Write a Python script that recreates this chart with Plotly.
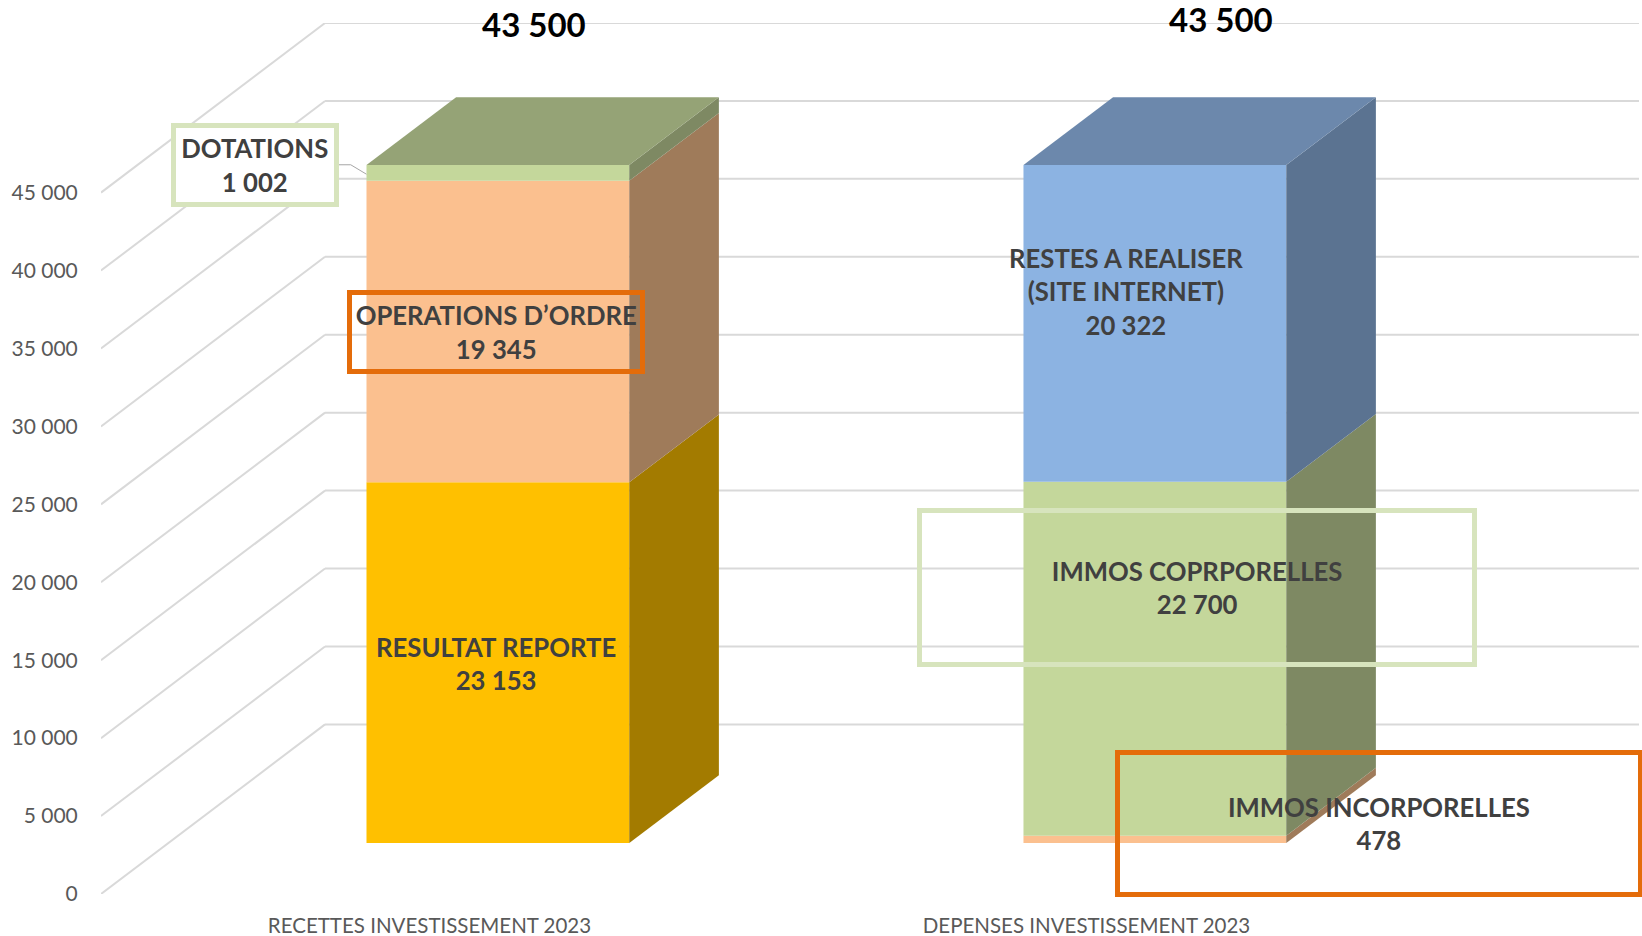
import plotly.graph_objects as go

CATEGORIES = ["RECETTES INVESTISSEMENT 2023", "DEPENSES INVESTISSEMENT 2023"]
TOTALS = [43500, 43500]
RECETTES_NAMES = ["RESULTAT REPORTE", "OPERATIONS D’ORDRE", "DOTATIONS"]
RECETTES_VALUES = [23153, 19345, 1002]
DEPENSES_NAMES = ["IMMOS INCORPORELLES", "IMMOS COPRPORELLES", "RESTES A REALISER (SITE INTERNET)"]
DEPENSES_VALUES = [478, 22700, 20322]
TICKS = [0, 5000, 10000, 15000, 20000, 25000, 30000, 35000, 40000, 45000]
TICK_LABELS = ["0", "5 000", "10 000", "15 000", "20 000", "25 000", "30 000", "35 000", "40 000", "45 000"]

YELLOW = ("#FFC000", "#A37B00", "#A37B00")
PEACH = ("#FBC08F", "#9F7B5A", "#9F7B5A")
GREEN = ("#C4D79B", "#7E8963", "#95A376")
BLUE = ("#8CB3E2", "#5B7391", "#6C88AC")
RECETTES_COLORS = [YELLOW, PEACH, GREEN]
DEPENSES_COLORS = [PEACH, GREEN, BLUE]

W, H = 1642, 936
L, R, T, B = 101.0, 1639.5, 22.5, 894.3
S = 1642 / 1568
DX = 0.341
DY = 10881
D0, D1 = 0.3, 0.7
BAR_W = 0.4

fig = go.Figure()


def face(xs, ys, color):
    fig.add_trace(go.Scatter(x=xs, y=ys, mode="lines", fill="toself", fillcolor=color,
                             line=dict(width=0, color=color), hoverinfo="skip", showlegend=False))


for i, (names, vals, cols) in enumerate([(RECETTES_NAMES, RECETTES_VALUES, RECETTES_COLORS),
                                         (DEPENSES_NAMES, DEPENSES_VALUES, DEPENSES_COLORS)]):
    xc = i + DX * D0 + 0.0018
    x0, x1 = xc - BAR_W / 2, xc + BAR_W / 2
    base = DY * D0
    for n, v, c in zip(names, vals, cols):
        fig.add_trace(go.Bar(x=[xc], y=[v], base=[base], width=[BAR_W], name=n,
                             marker=dict(color=c[0], line=dict(width=0)), showlegend=False))
        d = DX * (D1 - D0)
        e = DY * (D1 - D0)
        face([x1, x1 + d, x1 + d, x1, x1], [base, base + e, base + v + e, base + v, base], c[1])
        base += v
    c = cols[-1]
    face([x0, x0 + d, x1 + d, x1, x0], [base, base + e, base + e, base, base], c[2])

for t in TICKS:
    fig.add_shape(type="line", x0=-0.5, x1=-0.5 + DX, y0=t, y1=t + DY, layer="below",
                  line=dict(color="#D9D9D9", width=2))
    fig.add_shape(type="line", x0=-0.5 + DX, x1=1.5 + DX, y0=t + DY, y1=t + DY, layer="below",
                  line=dict(color="#D9D9D9", width=2))


def px(x):
    return (x * S - L) / (R - L)


def py(y):
    return (B - y * S) / (B - T)


FONT = "Lato"
LABEL = dict(family=FONT, size=25.7, color="#404040", weight="bold")


def label(text, cx, cy, box=None, color=None, fill=None, bw=5):
    kw = dict(x=px(cx), y=py(cy), xref="paper", yref="paper", text=text, showarrow=False,
              font=LABEL, xanchor="center", yanchor="middle", align="center", valign="middle",
              borderpad=0)
    if box:
        kw.update(width=box[0] * S - 2 * bw, height=box[1] * S - 2 * bw,
                  bordercolor=color, borderwidth=bw)
        if fill:
            kw["bgcolor"] = fill
    fig.add_annotation(**kw)


def fmt(v):
    return f"{v:,}".replace(",", " ")


label(f"{RECETTES_NAMES[0]}<br>{fmt(RECETTES_VALUES[0])}", 474, 634)
label(f"{RECETTES_NAMES[1]}<br>{fmt(RECETTES_VALUES[1])}", 474, 317, (285, 80), "#E46C0A")
label(f"{RECETTES_NAMES[2]}<br>{fmt(RECETTES_VALUES[2])}", 244, 157, (160, 80), "#D7E4BD", "#FFFFFF")
label(f"{DEPENSES_NAMES[0]}<br>{fmt(DEPENSES_VALUES[0])}", 1317, 787, (504, 140), "#E46C0A")
label(f"{DEPENSES_NAMES[1]}<br>{fmt(DEPENSES_VALUES[1])}", 1143.5, 561, (535, 152), "#D7E4BD")
label(f"RESTES A REALISER<br>(SITE INTERNET)<br>{fmt(DEPENSES_VALUES[2])}", 1076, 278)

for tot, cx, cy in zip(TOTALS, [510, 1166], [22, 18]):
    fig.add_annotation(x=px(cx), y=py(cy), xref="paper", yref="paper", text=fmt(tot), showarrow=False,
                       font=dict(family=FONT, size=33, color="#000000", weight="bold"),
                       xanchor="center", yanchor="middle")

fig.add_shape(type="path", xref="paper", yref="paper", layer="above",
              path=f"M {px(322)} {py(157)} L {px(335)} {py(157)} L {px(350)} {py(166)}",
              line=dict(color="#A6A6A6", width=1))

fig.update_layout(
    width=W, height=H, autosize=False, barmode="overlay", showlegend=False,
    paper_bgcolor="#FFFFFF", plot_bgcolor="#FFFFFF",
    margin=dict(l=L, r=W - R, t=T, b=H - B, autoexpand=False),
    xaxis=dict(range=[-0.5, 1.5 + DX], tickmode="array", tickvals=[0, 1], ticktext=CATEGORIES,
               showgrid=False, zeroline=False, showline=False, ticks="outside", ticklen=13,
               tickcolor="rgba(0,0,0,0)", tickfont=dict(family=FONT, size=20.5, color="#595959")),
    yaxis=dict(range=[0, 45000 + DY], tickmode="array", tickvals=TICKS, ticktext=TICK_LABELS,
               showgrid=False, zeroline=False, showline=False, ticks="outside", ticklen=18,
               tickcolor="rgba(0,0,0,0)", tickfont=dict(family=FONT, size=21, color="#595959")),
)

fig.write_html("out.html", config={"displayModeBar": False},
               post_script="document.body.style.margin='0';document.body.style.overflow='hidden';")
